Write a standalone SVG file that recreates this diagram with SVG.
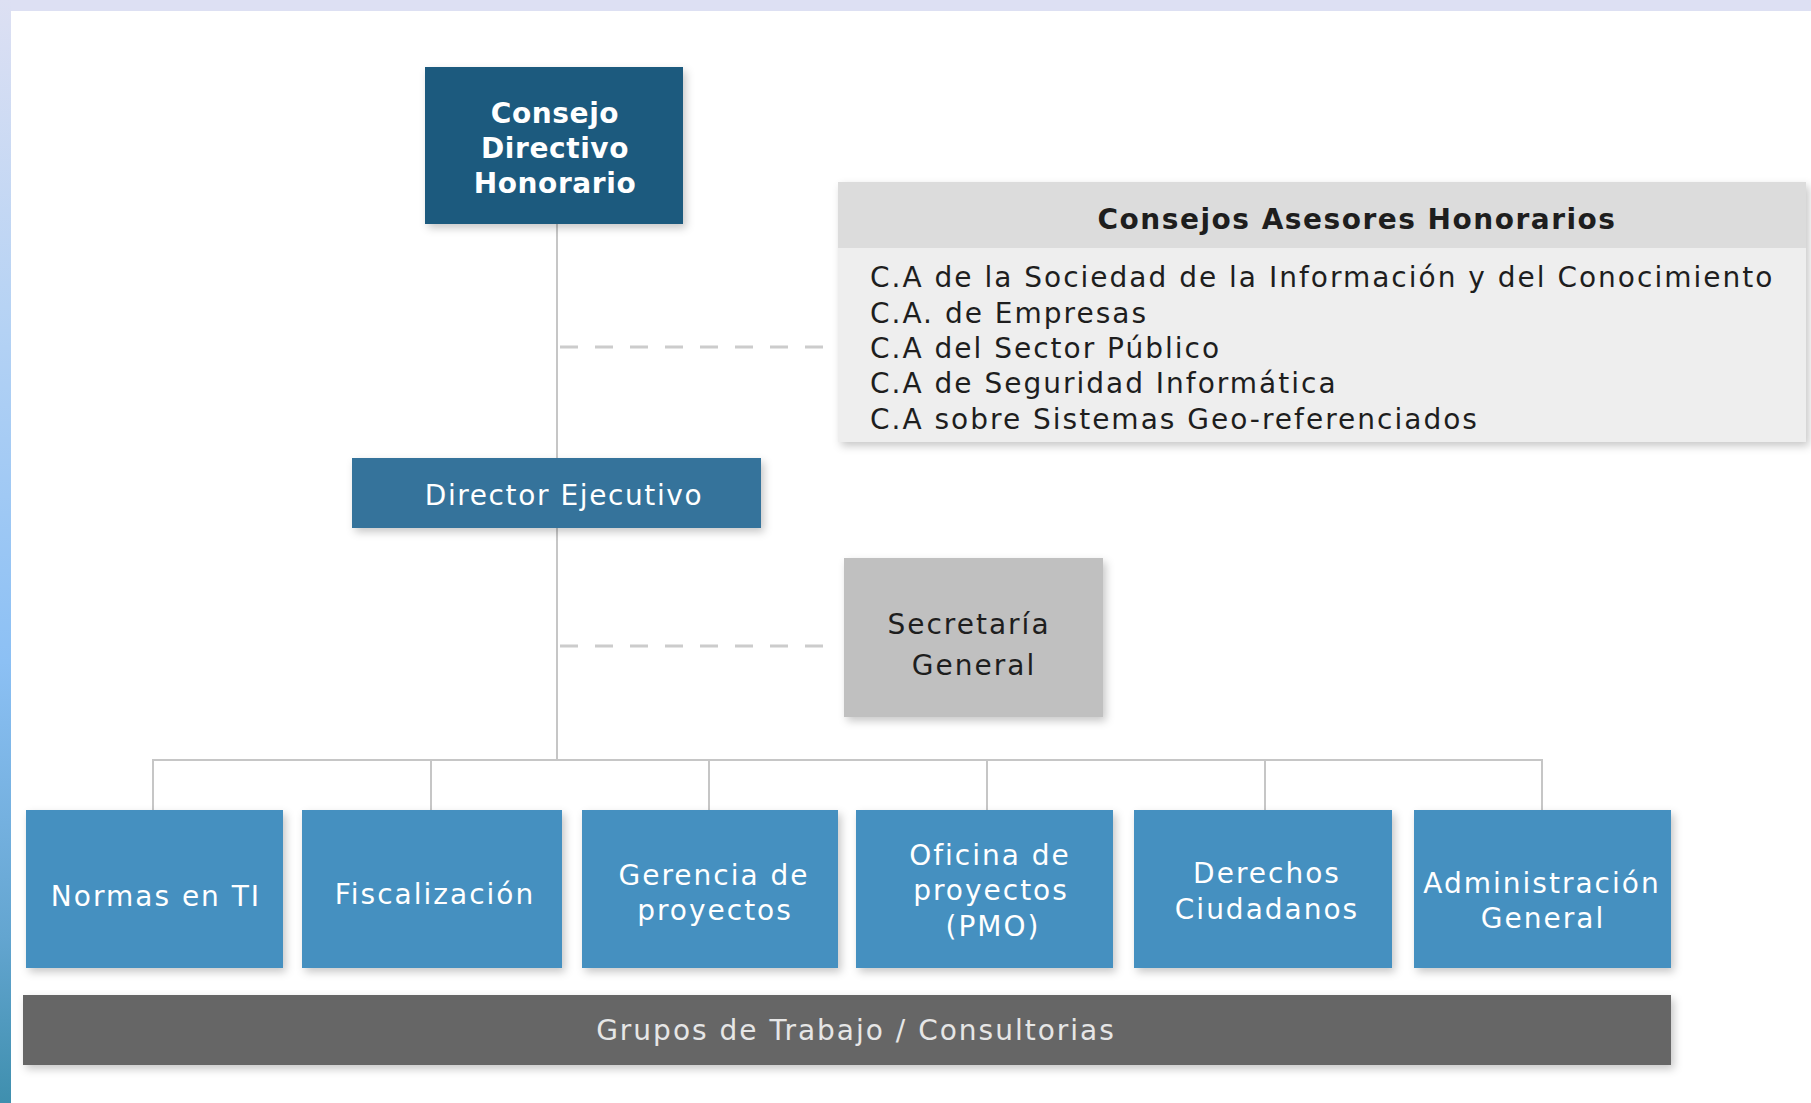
<svg xmlns="http://www.w3.org/2000/svg" width="1811" height="1103" viewBox="0 0 1811 1103">
<defs>
<linearGradient id="side" x1="0" y1="0" x2="0" y2="1">
<stop offset="0" stop-color="#dde0f3"/>
<stop offset="0.3" stop-color="#b4d2f4"/>
<stop offset="0.6" stop-color="#8cc0f4"/>
<stop offset="0.85" stop-color="#63a5d0"/>
<stop offset="1" stop-color="#3f8fae"/>
</linearGradient>
<filter id="sh" x="-10%" y="-10%" width="120%" height="130%">
<feDropShadow dx="3" dy="4" stdDeviation="4" flood-color="#000" flood-opacity="0.22"/>
</filter>
</defs>
<style>
.t{font-family:"DejaVu Sans","Verdana",sans-serif;font-size:28px;letter-spacing:2px;text-anchor:middle}
.w{fill:#ffffff}
.k{fill:#1e1e1e}
.b{font-weight:bold}
.ln{stroke:#c6c6c6;stroke-width:2;fill:none}
.ds{stroke:#cccccc;stroke-width:3;stroke-dasharray:18 17;fill:none}
.unit{fill:#4590c0}
</style>
<rect x="0" y="0" width="1811" height="1103" fill="#ffffff"/>
<rect x="0" y="0" width="1811" height="11" fill="#dde0f3"/>
<rect x="0" y="0" width="11" height="1103" fill="url(#side)"/>

<g id="connectors">
<path class="ln" d="M557 224 V458 M557 528 V760 M153 810 V760 H1542 V810 M431 760 V810 M709 760 V810 M987 760 V810 M1265 760 V810"/>
<path class="ds" d="M560 347 H826"/>
<path class="ds" d="M560 646 H826"/>
</g>

<g id="consejo-directivo">
<rect x="425" y="67" width="258" height="157" fill="#1f5a7e" filter="url(#sh)"/>
<text class="t w b" style="letter-spacing:0.6px" x="555" y="123">Consejo</text>
<text class="t w b" style="letter-spacing:0.6px" x="555" y="158">Directivo</text>
<text class="t w b" style="letter-spacing:0.6px" x="555" y="193">Honorario</text>
</g>

<g id="consejos-asesores">
<rect x="838" y="182" width="968" height="260" fill="#eeeeee" filter="url(#sh)"/>
<rect x="838" y="182" width="968" height="66" fill="#dcdcdc"/>
<text class="t k b" style="letter-spacing:1.5px" x="1357" y="229">Consejos Asesores Honorarios</text>
<text class="t k" style="text-anchor:start" x="870" y="287">C.A de la Sociedad de la Información y del Conocimiento</text>
<text class="t k" style="text-anchor:start" x="870" y="323">C.A. de Empresas</text>
<text class="t k" style="text-anchor:start" x="870" y="358">C.A del Sector Público</text>
<text class="t k" style="text-anchor:start" x="870" y="393">C.A de Seguridad Informática</text>
<text class="t k" style="text-anchor:start" x="870" y="429">C.A sobre Sistemas Geo-referenciados</text>
</g>

<g id="director-ejecutivo">
<rect x="352" y="458" width="409" height="70" fill="#34739b" filter="url(#sh)"/>
<text class="t w" style="letter-spacing:1.6px" x="564" y="505">Director Ejecutivo</text>
</g>

<g id="secretaria-general">
<rect x="844" y="558" width="259" height="159" fill="#c0c0c0" filter="url(#sh)"/>
<text class="t k" x="969" y="634">Secretaría</text>
<text class="t k" x="974" y="675">General</text>
</g>

<g id="normas-ti">
<rect class="unit" x="26" y="810" width="257" height="158" filter="url(#sh)"/>
<text class="t w" x="156" y="906">Normas en TI</text>
</g>

<g id="fiscalizacion">
<rect class="unit" x="302" y="810" width="260" height="158" filter="url(#sh)"/>
<text class="t w" x="435" y="904">Fiscalización</text>
</g>

<g id="gerencia-proyectos">
<rect class="unit" x="582" y="810" width="256" height="158" filter="url(#sh)"/>
<text class="t w" x="714" y="885">Gerencia de</text>
<text class="t w" x="715" y="920">proyectos</text>
</g>

<g id="oficina-proyectos">
<rect class="unit" x="856" y="810" width="257" height="158" filter="url(#sh)"/>
<text class="t w" x="990" y="865">Oficina de</text>
<text class="t w" x="991" y="900">proyectos</text>
<text class="t w" x="993" y="936">(PMO)</text>
</g>

<g id="derechos-ciudadanos">
<rect class="unit" x="1134" y="810" width="258" height="158" filter="url(#sh)"/>
<text class="t w" x="1267" y="883">Derechos</text>
<text class="t w" x="1267" y="919">Ciudadanos</text>
</g>

<g id="administracion-general">
<rect class="unit" x="1414" y="810" width="257" height="158" filter="url(#sh)"/>
<text class="t w" x="1542" y="893">Administración</text>
<text class="t w" x="1543" y="928">General</text>
</g>

<g id="grupos-trabajo">
<rect x="23" y="995" width="1648" height="70" fill="#666666" filter="url(#sh)"/>
<text class="t" style="fill:#e6e6e6" x="856" y="1040">Grupos de Trabajo / Consultorias</text>
</g>
</svg>
